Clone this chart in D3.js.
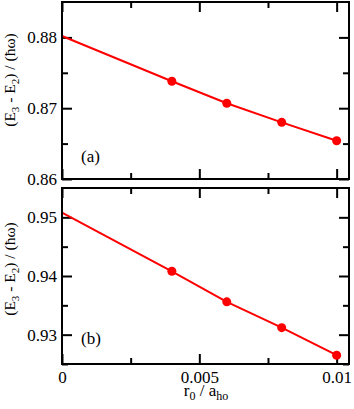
<!DOCTYPE html>
<html>
<head>
<style type="text/css">
body { margin: 0; background: #fff; }
text { font-family: "Liberation Serif", "Times New Roman", serif; font-size: 17px; fill: #000; }
.frame { fill: none; stroke: #000; stroke-width: 2; }
.fitline { fill: none; stroke: #ff0000; stroke-width: 2; }
.tick line { stroke: #000; stroke-width: 2; }
</style>
<script src="https://d3js.org/d3.v7.min.js"></script>
</head>
<body>
<script type="text/javascript">
var r0 = [0, 0.004, 0.006, 0.008, 0.01];
var gapA = [0.8802, 0.8738, 0.8707, 0.8680, 0.8654];
var gapB = [0.9508, 0.9408, 0.9356, 0.9312, 0.9265];
var xTicks = [0, 0.005, 0.01];
var xMinor = [0.0025, 0.0075];
var yTicksA = [0.86, 0.87, 0.88];
var yMinorA = [0.865, 0.875];
var yTicksB = [0.93, 0.94, 0.95];
var yMinorB = [0.925, 0.935, 0.945];
var panelLabels = ["(a)", "(b)"];

var width = 354, height = 409;
var left = 62, right = 349;

var svg = d3.select("body").append("svg").attr("width", width).attr("height", height);

var x = d3.scaleLinear().domain([0, 0.01045]).range([left, right]);

var panels = [
	{ top: 2, bottom: 179, domain: [0.86, 0.885], vals: gapA, ticks: yTicksA, minor: yMinorA, label: panelLabels[0], labelY: 162, titleY: 80 },
	{ top: 188, bottom: 364, domain: [0.925, 0.955], vals: gapB, ticks: yTicksB, minor: yMinorB, label: panelLabels[1], labelY: 344, titleY: 269 }
];

panels.forEach(function(p, pi) {
	var y = d3.scaleLinear().domain(p.domain).range([p.bottom, p.top]);
	var g = svg.append("g");
	var last = pi == panels.length - 1;

	// y axes
	g.append("g").attr("transform", "translate(" + left + ",0)")
		.call(d3.axisLeft(y).tickValues(p.ticks).tickFormat(d3.format(".2f")).tickSizeInner(-10).tickSizeOuter(0).tickPadding(5));
	g.append("g").attr("transform", "translate(" + left + ",0)")
		.call(d3.axisLeft(y).tickValues(p.minor).tickFormat("").tickSizeInner(-6).tickSizeOuter(0));
	g.append("g").attr("transform", "translate(" + right + ",0)")
		.call(d3.axisRight(y).tickValues(p.ticks).tickFormat("").tickSizeInner(-10).tickSizeOuter(0));
	g.append("g").attr("transform", "translate(" + right + ",0)")
		.call(d3.axisRight(y).tickValues(p.minor).tickFormat("").tickSizeInner(-6).tickSizeOuter(0));

	// x axes
	g.append("g").attr("transform", "translate(0," + p.bottom + ")")
		.call(d3.axisBottom(x).tickValues(xTicks).tickFormat(last ? d3.format("") : "").tickSizeInner(-10).tickSizeOuter(0).tickPadding(7));
	g.append("g").attr("transform", "translate(0," + p.bottom + ")")
		.call(d3.axisBottom(x).tickValues(xMinor).tickFormat("").tickSizeInner(-6).tickSizeOuter(0));
	g.append("g").attr("transform", "translate(0," + p.top + ")")
		.call(d3.axisTop(x).tickValues(xTicks).tickFormat("").tickSizeInner(-10).tickSizeOuter(0));
	g.append("g").attr("transform", "translate(0," + p.top + ")")
		.call(d3.axisTop(x).tickValues(xMinor).tickFormat("").tickSizeInner(-6).tickSizeOuter(0));

	g.selectAll(".domain").remove();
	g.selectAll(".tick text").attr("font-family", null).attr("font-size", null);

	var line = d3.line()
		.x(function(d, i) { return x(r0[i]); })
		.y(function(d) { return y(d); });
	g.append("path").datum(p.vals).attr("class", "fitline").attr("d", line);

	g.selectAll("circle").data(p.vals.slice(1)).enter().append("circle")
		.attr("cx", function(d, i) { return x(r0[i + 1]); })
		.attr("cy", function(d) { return y(d); })
		.attr("r", 4.5)
		.attr("fill", "#ff0000");

	g.append("rect").attr("class", "frame")
		.attr("x", left).attr("y", p.top)
		.attr("width", right - left).attr("height", p.bottom - p.top);

	g.append("text").attr("x", 81).attr("y", p.labelY).text(p.label);

	// y title
	var t = g.append("text")
		.attr("transform", "translate(15," + p.titleY + ") rotate(-90)")
		.attr("text-anchor", "middle")
		.style("font-size", "15.5px");
	t.append("tspan").text("(E");
	t.append("tspan").attr("dy", 4).style("font-size", "11px").text("3");
	t.append("tspan").attr("dy", -4).text(" - E");
	t.append("tspan").attr("dy", 4).style("font-size", "11px").text("2");
	t.append("tspan").attr("dy", -4).text(") / (\u0127\u03c9)");
});

// x title
var xt = svg.append("text").attr("x", 206).attr("y", 396).attr("text-anchor", "middle");
xt.append("tspan").text("r");
xt.append("tspan").attr("dy", 4).style("font-size", "12px").text("0");
xt.append("tspan").attr("dy", -4).text(" / a");
xt.append("tspan").attr("dy", 4).style("font-size", "12px").text("ho");
</script>
</body>
</html>
